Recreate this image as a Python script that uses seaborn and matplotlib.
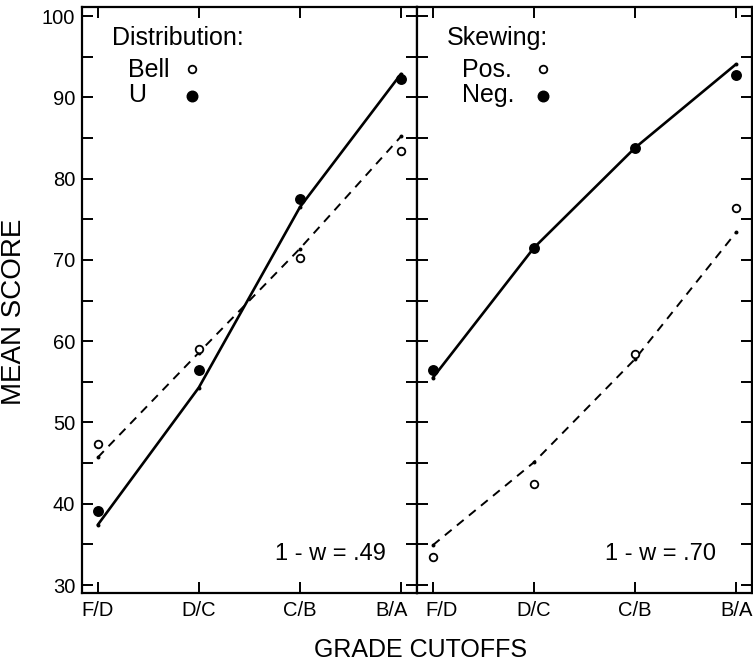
import numpy as np
import pandas as pd
import matplotlib.pyplot as plt
import matplotlib.transforms as mtransforms
from matplotlib.ticker import MultipleLocator
import seaborn as sns

sns.set_style('ticks')
plt.rcParams['font.family'] = ['Liberation Sans', 'DejaVu Sans']
plt.rcParams['text.color'] = 'black'
plt.rcParams['axes.labelcolor'] = 'black'
plt.rcParams['xtick.color'] = 'black'
plt.rcParams['ytick.color'] = 'black'
plt.rcParams['axes.edgecolor'] = 'black'

cutoffs = ['F/D', 'D/C', 'C/B', 'B/A']

# left panel: distribution shape (observed means and fitted model values)
bell_obs = [47.4, 59.0, 70.2, 83.4]
bell_fit = [45.7, 58.6, 71.4, 85.2]
u_obs = [39.1, 56.5, 77.5, 92.3]
u_fit = [37.4, 54.3, 76.5, 92.9]

# right panel: skewing
pos_obs = [33.4, 42.4, 58.4, 76.4]
pos_fit = [34.9, 45.1, 57.8, 73.4]
neg_obs = [56.5, 71.5, 83.8, 92.8]
neg_fit = [55.5, 71.5, 83.8, 94.1]

panels = [
    dict(title='Distribution:', open_lbl='Bell', filled_lbl='U',
         open_obs=bell_obs, open_fit=bell_fit, filled_obs=u_obs, filled_fit=u_fit,
         w_text='1 - w = .49', w_x=1.75, key_x=0.328, lbl_x=0.138, title_x=0.0896),
    dict(title='Skewing:', open_lbl='Pos.', filled_lbl='Neg.',
         open_obs=pos_obs, open_fit=pos_fit, filled_obs=neg_obs, filled_fit=neg_fit,
         w_text='1 - w = .70', w_x=1.70, key_x=0.376, lbl_x=0.133, title_x=0.0887),
]

fig = plt.figure(figsize=(7.53, 6.63), dpi=100)
ax1 = fig.add_axes([0.109, 0.106, 0.445, 0.883])
ax2 = fig.add_axes([0.554, 0.106, 0.445, 0.883], sharey=ax1)

pos = np.arange(len(cutoffs))

for ax, p in zip([ax1, ax2], panels):
    df = pd.DataFrame({'cutoff': pos,
                       'open_obs': p['open_obs'], 'open_fit': p['open_fit'],
                       'filled_obs': p['filled_obs'], 'filled_fit': p['filled_fit']})

    # fitted lines
    sns.lineplot(data=df, x='cutoff', y='filled_fit', ax=ax, color='black',
                 lw=1.9, sort=False, zorder=2)
    sns.lineplot(data=df, x='cutoff', y='open_fit', ax=ax, color='black',
                 lw=1.4, sort=False, linestyle=(0, (4.5, 3.5)), zorder=2)
    for col in ['filled_fit', 'open_fit']:
        sns.scatterplot(data=df, x='cutoff', y=col, ax=ax, s=8, color='black',
                        linewidth=0, zorder=3)

    # observed means
    sns.scatterplot(data=df, x='cutoff', y='filled_obs', ax=ax, s=62,
                    color='black', linewidth=0, zorder=4)
    sns.scatterplot(data=df, x='cutoff', y='open_obs', ax=ax, s=30,
                    facecolor='white', edgecolor='black', linewidth=1.3, zorder=4)

    # legend, drawn by hand
    ax.text(p['title_x'], 0.935, p['title'], transform=ax.transAxes,
            fontsize=18, va='baseline', ha='left')
    ax.text(p['lbl_x'], 0.881, p['open_lbl'], transform=ax.transAxes,
            fontsize=18, va='baseline', ha='left')
    ax.text(p['lbl_x'], 0.838, p['filled_lbl'], transform=ax.transAxes,
            fontsize=18, va='baseline', ha='left')
    ax.plot([p['key_x']], [0.894], 'o', transform=ax.transAxes, ms=5.5,
            mfc='white', mec='black', mew=1.3)
    ax.plot([p['key_x']], [0.848], 'o', transform=ax.transAxes, ms=7.6,
            color='black')

    ax.text(p['w_x'], 33.1, p['w_text'], fontsize=17, va='baseline', ha='left')

    ax.set_xlim(-0.155, 3.16)
    ax.set_xticks(pos)
    ax.set_xticklabels(cutoffs)
    ax.set_xlabel('')
    ax.set_ylabel('')
    ax.yaxis.set_major_locator(MultipleLocator(10))
    ax.yaxis.set_minor_locator(MultipleLocator(5))
    ax.tick_params(which='both', direction='in', length=8, width=1.4,
                   top=True, right=True, labelsize=14.5)
    ax.tick_params(axis='x', pad=6)
    ax.tick_params(axis='y', pad=5)
    for sp in ax.spines.values():
        sp.set_linewidth(1.6)
        sp.set_visible(True)

ax1.set_ylim(29.05, 101.1)
ax2.tick_params(labelleft=False)

# nudge the two labels that meet at the panel border apart
shift_left = mtransforms.ScaledTranslation(-7 / 72, 0, fig.dpi_scale_trans)
shift_right = mtransforms.ScaledTranslation(6 / 72, 0, fig.dpi_scale_trans)
lab = ax1.xaxis.get_major_ticks()[3].label1
lab.set_transform(lab.get_transform() + shift_left)
lab = ax2.xaxis.get_major_ticks()[0].label1
lab.set_transform(lab.get_transform() + shift_right)

ax1.set_ylabel('MEAN SCORE', fontsize=20)
ax1.yaxis.set_label_coords(-0.165, 0.479)
fig.text(0.558, 0.0095, 'GRADE CUTOFFS', ha='center', va='baseline', fontsize=18)

fig.savefig('out.png', dpi=100)
